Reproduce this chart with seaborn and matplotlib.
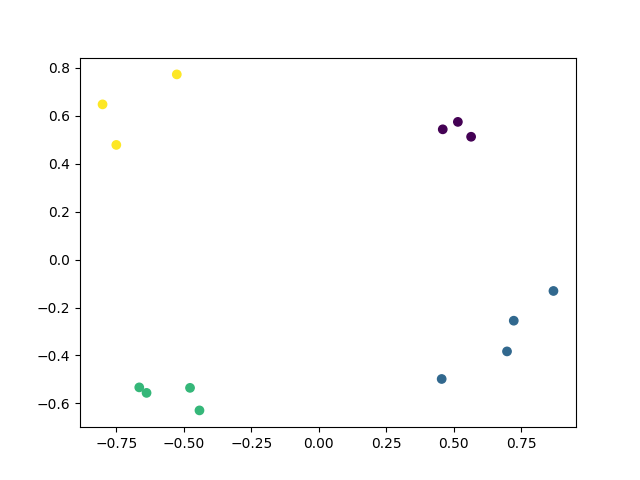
import numpy as np
import pandas as pd
import seaborn as sns
import matplotlib.pyplot as plt

# points, grouped by cluster label
x_vals = [0.459, 0.515, 0.564,
          0.869, 0.722, 0.697, 0.455,
          -0.665, -0.638, -0.477, -0.442,
          -0.801, -0.750, -0.526]
y_vals = [0.543, 0.574, 0.512,
          -0.131, -0.255, -0.383, -0.498,
          -0.533, -0.556, -0.535, -0.629,
          0.647, 0.478, 0.772]
labels = [0, 0, 0,
          1, 1, 1, 1,
          2, 2, 2, 2,
          3, 3, 3]

df = pd.DataFrame({"x": x_vals, "y": y_vals, "label": labels})

fig, ax = plt.subplots(figsize=(6.4, 4.8), dpi=100)
sns.scatterplot(data=df, x="x", y="y", hue="label", palette="viridis",
                hue_norm=(0, 3), s=36, linewidth=1, edgecolor="face",
                legend=False, ax=ax)
ax.set_xlabel("")
ax.set_ylabel("")
plt.savefig("out.png")
